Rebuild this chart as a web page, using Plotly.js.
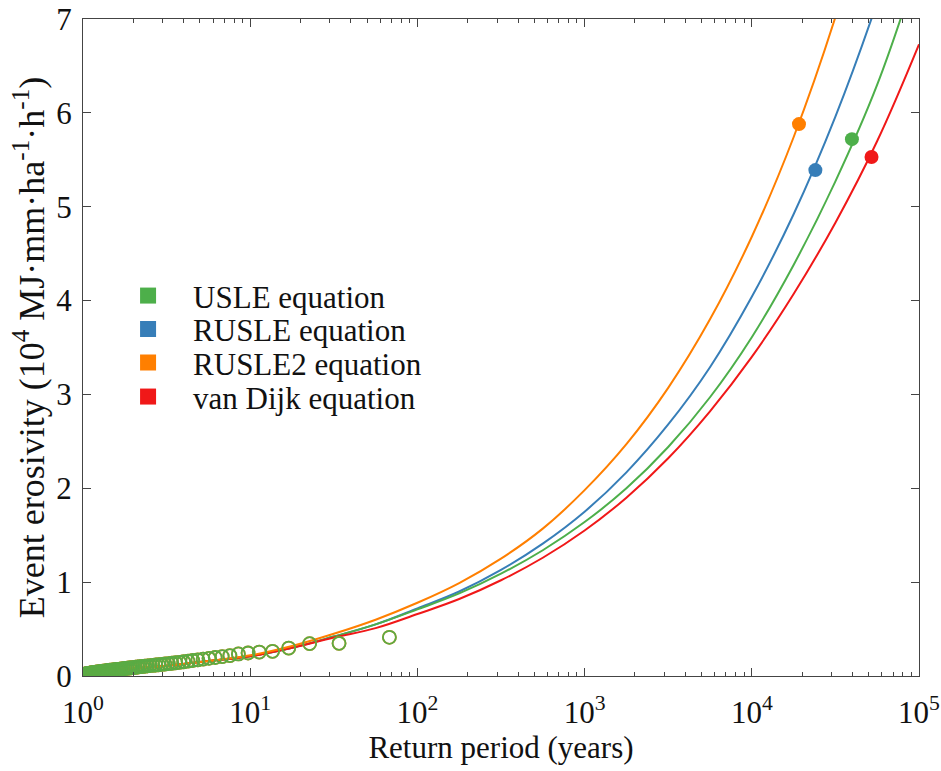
<!DOCTYPE html>
<html>
<head>
<meta charset="utf-8">
<script src="https://cdn.plot.ly/plotly-3.0.1.min.js"></script>
<style>html,body{margin:0;padding:0;background:#fff;}#chart{width:941px;height:771px;}</style>
</head>
<body>
<div id="chart"></div>
<script>
// Return periods (years) at which the fitted curves were read (quarter-decade steps)
const curveT = [1, 1.778, 3.162, 5.623, 10, 17.78, 31.62, 56.23, 100, 177.8, 316.2, 562.3, 1000, 1778, 3162, 5623, 10000, 17783, 31623, 56234, 100000];
// Event erosivity (10^4 MJ·mm·ha^-1·h^-1)
const usleCurve    = [0.0, 0.07, 0.11, 0.16, 0.21, 0.30, 0.42, 0.55, 0.71, 0.88, 1.09, 1.34, 1.64, 2.00, 2.44, 2.97, 3.61, 4.38, 5.27, 6.30, 7.60];
const rusleCurve   = [0.0, 0.07, 0.11, 0.16, 0.21, 0.30, 0.42, 0.55, 0.72, 0.90, 1.13, 1.41, 1.75, 2.17, 2.68, 3.29, 4.04, 4.92, 5.96, 7.18, 8.58];
const rusle2Curve  = [0.0, 0.07, 0.11, 0.16, 0.22, 0.32, 0.45, 0.60, 0.78, 0.99, 1.25, 1.57, 1.98, 2.47, 3.07, 3.80, 4.68, 5.74, 7.02, 8.55, 10.4];
const vanDijkCurve = [0.0, 0.07, 0.11, 0.16, 0.21, 0.30, 0.41, 0.51, 0.66, 0.82, 1.02, 1.26, 1.55, 1.90, 2.32, 2.82, 3.40, 4.07, 4.83, 5.70, 6.73];

// Largest observed events (filled dots): USLE, RUSLE, RUSLE2, van Dijk
const maxT = [39700, 24000, 19150, 52000];
const maxE = [5.72, 5.39, 5.88, 5.53];

// Observed events (open circles): return periods and erosivity
const obsT = [68, 34, 22.67, 17, 13.6, 11.33, 9.71, 8.5, 7.56, 6.8, 6.18, 5.67, 5.23, 4.86, 4.53, 4.25, 4.0, 3.78, 3.58, 3.4,
  3.24, 3.09, 2.96, 2.83, 2.72, 2.62, 2.52, 2.43, 2.34, 2.27, 2.19, 2.125, 2.06, 2.0, 1.943, 1.889, 1.838, 1.789, 1.744, 1.7,
  1.659, 1.619, 1.581, 1.545, 1.511, 1.478, 1.447, 1.417, 1.388, 1.36, 1.333, 1.308, 1.283, 1.259, 1.236, 1.214, 1.193, 1.172,
  1.153, 1.133, 1.115, 1.097, 1.079, 1.0625, 1.046, 1.03, 1.015];
const obsE = [0.412, 0.348, 0.345, 0.298, 0.263, 0.255, 0.245, 0.235, 0.218, 0.207, 0.197, 0.188, 0.180, 0.172, 0.165, 0.158, 0.152, 0.146, 0.141, 0.136,
  0.132, 0.128, 0.124, 0.120, 0.117, 0.114, 0.111, 0.108, 0.105, 0.102, 0.099, 0.096, 0.093, 0.090, 0.088, 0.085, 0.083, 0.080, 0.078, 0.076,
  0.073, 0.071, 0.069, 0.067, 0.065, 0.063, 0.061, 0.059, 0.057, 0.055, 0.053, 0.051, 0.049, 0.047, 0.045, 0.043, 0.041, 0.039,
  0.037, 0.035, 0.033, 0.031, 0.029, 0.027, 0.024, 0.021, 0.017];

const names = ['USLE equation', 'RUSLE equation', 'RUSLE2 equation', 'van Dijk equation'];
const colors = ['#4DAF4A', '#377EB8', '#FF7F00', '#F01818'];
const curves = [usleCurve, rusleCurve, rusle2Curve, vanDijkCurve];

const xTickVals = [1, 10, 100, 1000, 10000, 100000];
const xTickText = ['10<sup>0</sup>', '10<sup>1</sup>', '10<sup>2</sup>', '10<sup>3</sup>', '10<sup>4</sup>', '10<sup>5</sup>'];
const minorVals = [];
for (let d = 0; d < 5; d++) for (let m = 2; m <= 9; m++) minorVals.push(m * Math.pow(10, d));

const traces = [];
// curves: draw order blue, green, red, orange
[1, 0, 3, 2].forEach(i => {
  traces.push({x: curveT, y: curves[i], mode: 'lines', line: {color: colors[i], width: 2, shape: 'spline', smoothing: 1.1},
    showlegend: false, hoverinfo: 'skip'});
});
// observed circles
traces.push({x: obsT, y: obsE, mode: 'markers', showlegend: false,
  marker: {symbol: 'circle-open', size: 13, color: colors[2], line: {width: 1.8, color: colors[2]}}});
traces.push({x: obsT, y: obsE, mode: 'markers', showlegend: false, opacity: 0.92,
  marker: {symbol: 'circle-open', size: 13, color: colors[0], line: {width: 1.8, color: colors[0]}}});
// largest events
for (let i = 0; i < 4; i++) {
  traces.push({x: [maxT[i]], y: [maxE[i]], mode: 'markers', showlegend: false,
    marker: {symbol: 'circle', size: 14, color: colors[i]}});
}
// legend entries (one legend box per entry for exact spacing)
const legendIds = ['legend', 'legend2', 'legend3', 'legend4'];
for (let i = 0; i < 4; i++) {
  traces.push({x: [null], y: [null], mode: 'markers', name: names[i], showlegend: true, legend: legendIds[i],
    marker: {symbol: 'square', size: 16, color: colors[i]}});
}

const serif = 'Liberation Serif';
const legendYs = [0.5785, 0.5276, 0.4766, 0.4248];
const layout = {
  width: 941, height: 771,
  margin: {l: 83, r: 22, t: 19, b: 95},
  paper_bgcolor: '#fff', plot_bgcolor: '#fff',
  font: {family: serif, color: '#111', size: 28},
  showlegend: true,
  xaxis: {
    type: 'log', range: [0, 5], tickmode: 'array', tickvals: xTickVals, ticktext: xTickText,
    ticks: 'inside', ticklen: 8, tickwidth: 1, tickcolor: '#444', ticklabelstandoff: 9,
    minor: {tickmode: 'array', tickvals: minorVals, ticks: 'inside', ticklen: 4, tickwidth: 1, tickcolor: '#444', showgrid: false},
    showline: true, linecolor: '#444', linewidth: 1, mirror: 'ticks', showgrid: false, zeroline: false,
    tickfont: {family: serif, size: 31, color: '#111'},
    title: {text: 'Return period (years)', font: {family: serif, size: 31, color: '#111'}, standoff: 6}
  },
  yaxis: {
    range: [0, 7], dtick: 1, ticks: 'inside', ticklen: 8, tickwidth: 1, tickcolor: '#444', ticklabelstandoff: 4,
    showline: true, linecolor: '#444', linewidth: 1, mirror: 'ticks', showgrid: false, zeroline: false,
    tickfont: {family: serif, size: 31, color: '#111'},
    title: {text: 'Event erosivity (10<sup>4</sup> MJ·mm·ha<sup>-1</sup>·h<sup>-1</sup>)', font: {family: serif, size: 36, color: '#111'}, standoff: 0}
  }
};
legendIds.forEach((id, i) => {
  layout[id] = {x: 0.024, y: legendYs[i], xanchor: 'left', yanchor: 'middle', bgcolor: 'rgba(0,0,0,0)',
    font: {family: serif, size: 31, color: '#111'}, itemwidth: 80};
});

Plotly.newPlot('chart', traces, layout, {staticPlot: true, displayModeBar: false});
</script>
</body>
</html>
